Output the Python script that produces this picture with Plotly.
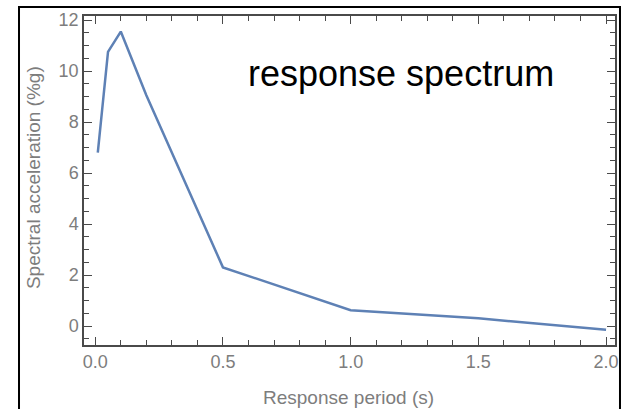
import plotly.graph_objects as go

# Data
period_s = [0.01, 0.05, 0.1, 0.2, 0.5, 1.0, 1.5, 2.0]
spectral_accel_pctg = [6.8, 10.75, 11.55, 9.05, 2.3, 0.62, 0.3, -0.15]

x_tickvals = [0.0, 0.5, 1.0, 1.5, 2.0]
x_ticktext = ["0.0", "0.5", "1.0", "1.5", "2.0"]
y_tickvals = [0, 2, 4, 6, 8, 10, 12]
y_ticktext = ["0", "2", "4", "6", "8", "10", "12"]

title_text = "response spectrum"
x_title = "Response period (s)"
y_title = "Spectral acceleration (%g)"

FONT = "Liberation Sans, Arial, sans-serif"
LABEL_COLOR = "#7d7d7d"
AXIS_COLOR = "#4a4a4a"

fig = go.Figure()
fig.add_trace(go.Scatter(
    x=period_s, y=spectral_accel_pctg, mode="lines",
    line=dict(color="#5E81B5", width=2.5),
    hoverinfo="x+y", showlegend=False,
))

axis_common = dict(
    showline=True, linecolor=AXIS_COLOR, linewidth=1.5, mirror="ticks",
    ticks="inside", tickcolor=AXIS_COLOR, tickwidth=1, ticklen=8,
    showgrid=False, zeroline=False, automargin=False,
    tickfont=dict(family=FONT, size=18, color=LABEL_COLOR),
)

fig.update_xaxes(
    range=[-0.044, 2.035], tickvals=x_tickvals, ticktext=x_ticktext,
    minor=dict(dtick=0.1, ticks="inside", ticklen=5, tickcolor=AXIS_COLOR, tickwidth=1, showgrid=False),
    **axis_common,
)
fig.update_yaxes(
    range=[-0.745, 12.16], tickvals=y_tickvals, ticktext=y_ticktext,
    minor=dict(dtick=0.5, ticks="inside", ticklen=5, tickcolor=AXIS_COLOR, tickwidth=1, showgrid=False),
    **axis_common,
)

# axis titles as annotations for exact placement
fig.add_annotation(
    text=x_title, xref="paper", yref="paper", x=0.499, y=-0.161,
    xanchor="center", yanchor="middle", showarrow=False,
    font=dict(family=FONT, size=19, color=LABEL_COLOR),
)
fig.add_annotation(
    text=y_title, xref="paper", yref="paper", x=-0.094, y=0.5076,
    xanchor="center", yanchor="middle", showarrow=False, textangle=-90,
    font=dict(family=FONT, size=19, color=LABEL_COLOR),
)

fig.add_annotation(
    text=title_text, xref="paper", yref="paper", x=0.597, y=0.825,
    xanchor="center", yanchor="middle", showarrow=False,
    font=dict(family=FONT, size=36, color="black"),
)

# outer black frame (from the screenshot border)
fig.add_shape(type="rect", xref="paper", yref="paper",
              x0=-0.1224, x1=1.0094, y0=-0.4, y1=1.0274,
              line=dict(color="black", width=2), layer="above")

fig.update_layout(
    width=623, height=409,
    margin=dict(l=84, r=8, t=16, b=64),
    paper_bgcolor="white", plot_bgcolor="white",
    font=dict(family=FONT),
)

fig.write_html(
    "out.html",
    config={"displayModeBar": False},
    post_script="document.body.style.margin='0';document.body.style.overflow='hidden';",
)
